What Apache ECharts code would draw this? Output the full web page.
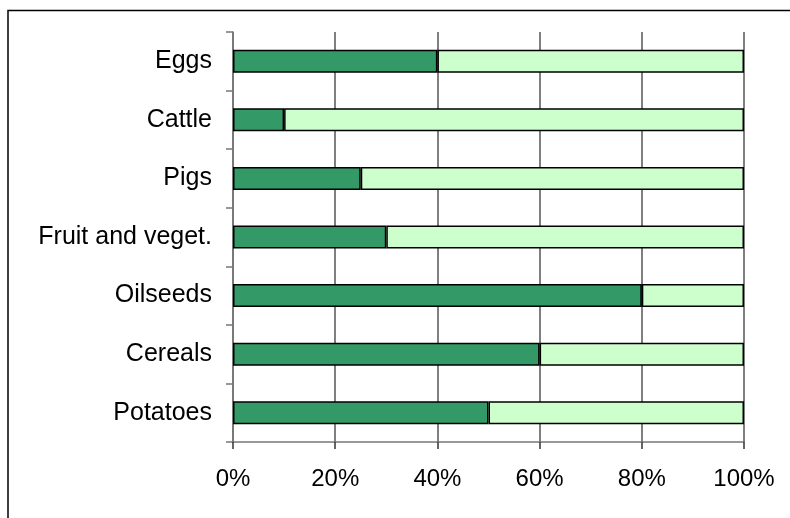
<!DOCTYPE html>
<html>
<head>
<meta charset="utf-8">
<script src="https://cdn.jsdelivr.net/npm/echarts@6/dist/echarts.min.js"></script>
<style>html,body{margin:0;padding:0;background:#fff;}#c{width:790px;height:518px;}</style>
</head>
<body>
<div id="c"></div>
<script>
const categories = ['Potatoes', 'Cereals', 'Oilseeds', 'Fruit and veget.', 'Pigs', 'Cattle', 'Eggs'];
const shareA = [50, 60, 80, 30, 25, 10, 40];
const shareB = [50, 40, 20, 70, 75, 90, 60];
const xTicks = [0, 20, 40, 60, 80, 100];

const chart = echarts.init(document.getElementById('c'));
chart.setOption({
  animation: false,
  backgroundColor: '#fff',
  textStyle: { fontFamily: 'Liberation Sans, Arial, sans-serif' },
  graphic: [{
    type: 'rect', silent: true,
    shape: { x: 8, y: 10.5, width: 820, height: 560 },
    style: { fill: 'none', stroke: '#000', lineWidth: 1.5 }
  }],
  grid: { left: 233, right: 46, top: 32, bottom: 76, containLabel: false },
  xAxis: {
    type: 'value', min: xTicks[0], max: xTicks[xTicks.length - 1], interval: 20,
    axisLine: { show: true, lineStyle: { color: '#777', width: 1.5 } },
    axisTick: { show: true, length: 7, lineStyle: { color: '#333', width: 1.5 } },
    axisLabel: { formatter: '{value}%', color: '#000', fontSize: 24, margin: 25 },
    splitLine: { show: true, lineStyle: { color: '#555', width: 1.5 } }
  },
  yAxis: {
    type: 'category', data: categories,
    axisLine: { show: true, lineStyle: { color: '#777', width: 1.5 } },
    axisTick: { show: true, length: 7, lineStyle: { color: '#777', width: 1.5 } },
    axisLabel: { color: '#000', fontSize: 25, margin: 21 }
  },
  series: [
    { type: 'bar', stack: 's', data: shareA, barWidth: 23,
      itemStyle: { color: '#339966', borderColor: '#000', borderWidth: 1.5 } },
    { type: 'bar', stack: 's', data: shareB, barWidth: 23,
      itemStyle: { color: '#CCFFCC', borderColor: '#000', borderWidth: 1.5 } }
  ]
});
</script>
</body>
</html>
